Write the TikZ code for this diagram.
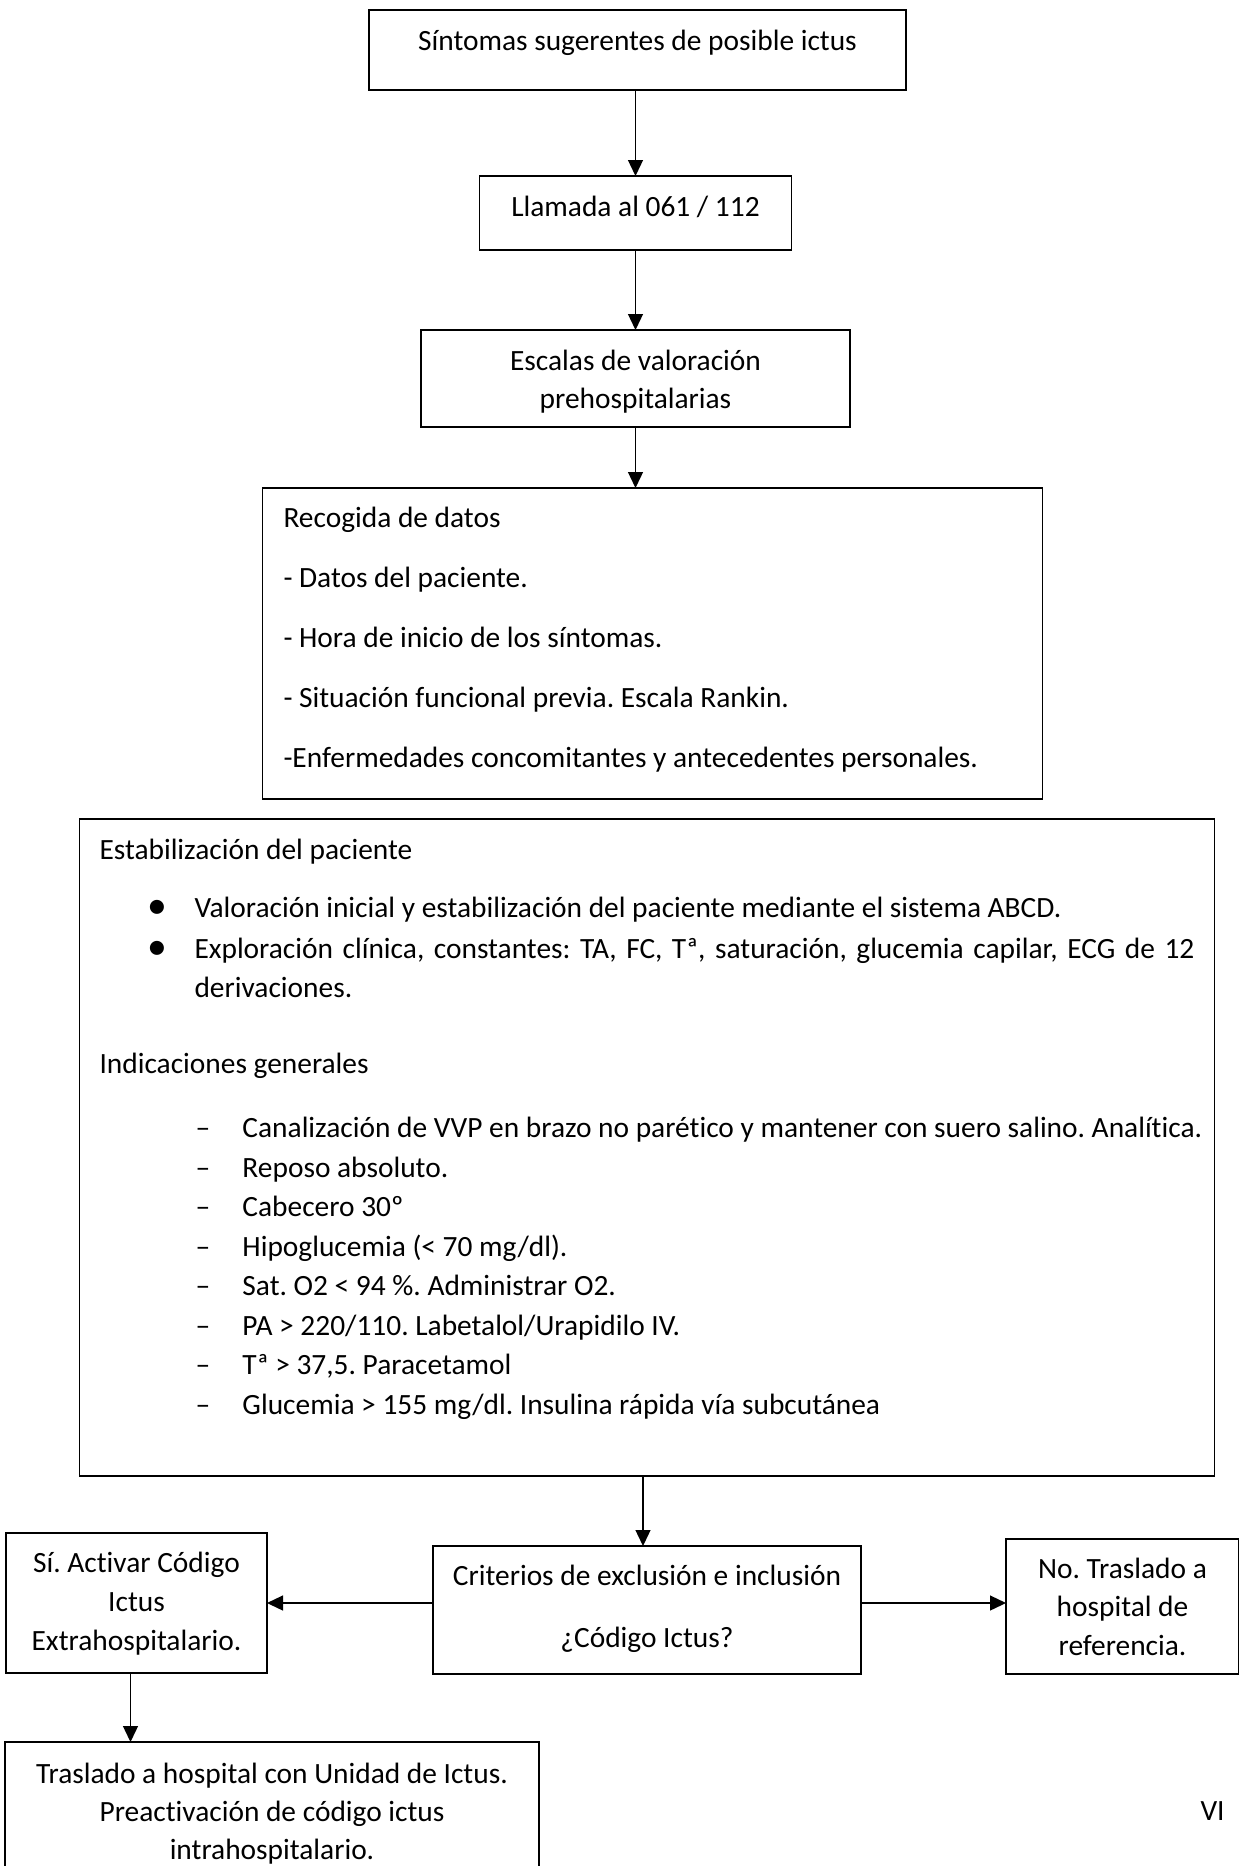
\documentclass[tikz,border=0pt]{standalone}
\usepackage{fontspec}
\setmainfont{Carlito}[Ligatures=NoCommon]
\usetikzlibrary{arrows.meta,positioning}
\newcommand{\vineta}{\par\noindent\llap{\makebox[47pt][l]{\raisebox{-1.5pt}{\scalebox{1.35}{\textbullet}}}}}
\newcommand{\guion}[1]{\par\noindent\llap{\makebox[47pt][l]{\textendash}}\mbox{#1}}
\frenchspacing

\begin{document}
\begin{tikzpicture}[x=1pt,y=1pt,font=\fontsize{29.4}{39}\selectfont,
  caja/.style={draw,line width=1.6pt,inner sep=0pt,outer sep=0pt,align=flush center},
  flecha/.style={-{Triangle[length=16pt,width=15pt]},line width=1.3pt}]
\useasboundingbox (0,0) rectangle (1239,-1866);
\node[caja,anchor=north,text width=537pt,text height=40pt,text depth=40pt] (sintomas) at (637.5,-10) {Síntomas sugerentes de posible ictus};
\node[caja,below=86pt of sintomas,xshift=-2pt,text width=312pt,text height=40pt,text depth=34pt] (llamada) {Llamada al 061 / 112};
\node[caja,below=80pt of llamada,text width=429pt,text height=40pt,text depth=57pt,font=\fontsize{29.4}{38.5}\selectfont] (escalas) {Escalas de valoración\\prehospitalarias};
\node[caja,below=61pt of escalas,xshift=17pt,align=flush left,inner xsep=21pt,text width=738pt,text height=39pt,text depth=272pt,font=\fontsize{29.4}{60}\selectfont] (recogida) {Recogida de datos\\- Datos del paciente.\\- Hora de inicio de los síntomas.\\- Situación funcional previa. Escala Rankin.\\-Enfermedades concomitantes y antecedentes personales.};
\node[caja,below=20pt of recogida,xshift=-5.5pt,align=justify,inner xsep=20pt,text width=1095pt,text height=40pt,text depth=617pt,font=\fontsize{29.4}{39.5}\selectfont] (estab) {\parindent=0pt
Estabilización del paciente\par
\vspace{18.5pt}\leftskip=95pt
\vineta Valoración inicial y estabilización del paciente mediante el sistema ABCD.\par
\vspace{1.5pt}
\vineta Exploración clínica, constantes: TA, FC, Tª, saturación, glucemia capilar, ECG de 12\linebreak derivaciones.\par
\vspace{36.5pt}\leftskip=0pt
Indicaciones generales\par
\vspace{24.5pt}\leftskip=143pt
\guion{Canalización de VVP en brazo no parético y mantener con suero salino. Analítica.}
\guion{Reposo absoluto.}
\guion{Cabecero 30º}
\guion{Hipoglucemia (< 70 mg/dl).}
\guion{Sat. O2 < 94 \%. Administrar O2.}
\guion{PA > 220/110. Labetalol/Urapidilo IV.}
\guion{Tª > 37,5. Paracetamol}
\guion{Glucemia > 155 mg/dl. Insulina rápida vía subcutánea}\par};
\node[caja,below=70pt of estab,text width=428pt,text height=39pt,text depth=89pt,font=\fontsize{29.4}{62}\selectfont] (crit) {Criterios de exclusión e inclusión\\¿Código Ictus?};
\node[caja,left=166pt of crit,yshift=7pt,text width=261pt,text height=39pt,text depth=101pt] (si) {Sí. Activar Código\\Ictus\\Extrahospitalario.};
\node[caja,right=145pt of crit,yshift=3.5pt,text width=233pt,text height=39pt,text depth=96pt,font=\fontsize{29.4}{38.5}\selectfont] (no) {No. Traslado a\\hospital de\\referencia.};
\node[caja,below=69pt of si.south west,anchor=north west,xshift=-1pt,text width=534pt,text height=41pt,text depth=107pt,font=\fontsize{29.4}{38}\selectfont] (traslado) {Traslado a hospital con Unidad de Ictus.\\Preactivación de código ictus\\intrahospitalario.};
\node[anchor=base west] (pagina) at (1197,-1820) {VI};
\draw[flecha] (sintomas.south -| llamada.north) -- (llamada);
\draw[flecha] (llamada) -- (escalas.north -| llamada);
\draw[flecha] (escalas.south -| llamada) -- (recogida.north -| llamada);
\draw[flecha] ([xshift=-4pt]estab.south -| crit.north) -- ([xshift=-4pt]crit.north);
\draw[flecha] (crit.west |- si.east) -- (si.east);
\draw[flecha] (crit.east |- si.east) -- (no.west |- si.east);
\draw[flecha] ([xshift=-6pt]si.south) -- ([xshift=-6pt]si.south |- traslado.north);
\end{tikzpicture}
\end{document}
